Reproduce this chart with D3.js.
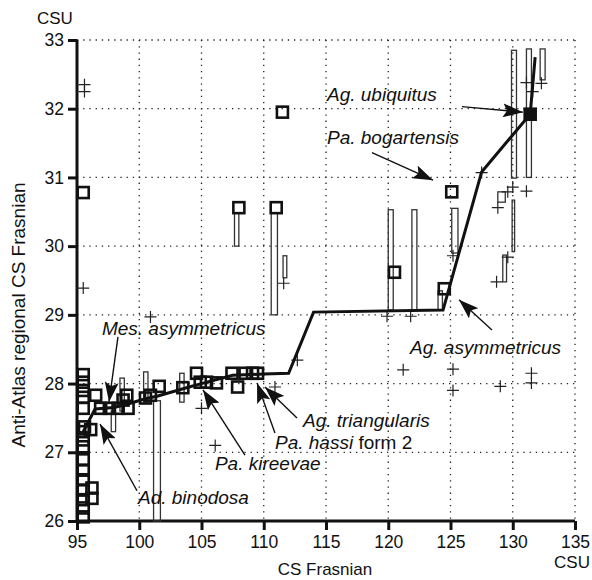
<!DOCTYPE html>
<html>
<head>
<meta charset="utf-8">
<script src="https://cdn.jsdelivr.net/npm/d3@7"></script>
<style>
  body { margin: 0; background: #fff; }
  text { font-family: "Liberation Sans", Arial, sans-serif; }
</style>
</head>
<body>
<div id="container"></div>
<script>
// ---- data ----
var xTicks = [95, 100, 105, 110, 115, 120, 125, 130, 135];
var yTicks = [26, 27, 28, 29, 30, 31, 32, 33];

// thick correlation line
var lineX = [95.5, 96.45, 98, 99, 100.5, 101.5, 104, 105, 107.5, 110, 112, 114, 124.4, 127.5, 131.4, 131.8];
var lineY = [27.3, 27.63, 27.65, 27.7, 27.78, 27.82, 27.95, 28.0, 28.12, 28.14, 28.15, 29.04, 29.07, 31.08, 31.92, 32.75];

// open squares
var squareX = [95.5, 95.5, 95.5, 95.5, 95.5, 95.5, 95.5, 95.5, 95.5, 95.5, 95.6, 95.5, 95.5, 95.5, 95.5, 95.5, 95.5,
  96.2, 96.2, 96.1, 96.5, 96.9, 97.6, 98.3, 99.1, 98.7, 99.0, 100.5, 100.9, 101.6, 103.5, 104.6, 104.9, 105.4, 106.2,
  107.45, 107.9, 108.5, 109.1, 109.5, 108.0, 111.0, 111.5, 120.5, 124.5, 125.1];
var squareY = [26.06, 26.19, 26.31, 26.45, 26.6, 26.74, 26.89, 27.08, 27.18, 27.3, 27.37, 27.64, 27.8, 27.9, 28.02, 28.13, 30.78,
  26.33, 26.48, 27.33, 27.83, 27.64, 27.64, 27.64, 27.64, 27.76, 27.83, 27.79, 27.83, 27.96, 27.94, 28.15, 28.02, 28.02, 28.01,
  28.15, 27.95, 28.15, 28.15, 28.15, 30.56, 30.56, 31.95, 29.62, 29.38, 30.79];

// filled square
var filledX = [131.4];
var filledY = [31.92];

// crosses
var crossX = [95.6, 95.6, 95.5, 100.9, 105.0, 106.1, 110.9, 112.7, 119.9, 121.8, 121.2, 125.2, 125.2, 129.0, 131.5, 131.5,
  125.2, 127.5, 129.6, 131.1, 128.8, 129.6, 128.7, 131.1, 131.6, 132.3, 130.0, 111.6];
var crossY = [32.35, 32.25, 29.39, 28.97, 27.64, 27.1, 27.95, 28.34, 28.98, 28.98, 28.2, 28.21, 27.9, 27.96, 28.15, 28.01,
  29.86, 31.07, 30.79, 30.8, 30.56, 29.84, 29.48, 32.38, 32.25, 32.37, 30.86, 29.46];

// range bars
var barX0 = [97.75, 98.45, 100.35, 101.15, 103.25, 107.65, 110.6, 111.55, 120.0, 121.9, 124.0, 125.1, 129.9, 131.1, 132.2, 128.8, 129.2, 129.95];
var barX1 = [98.1, 98.8, 100.7, 101.7, 103.6, 108.0, 111.1, 111.85, 120.4, 122.3, 124.35, 125.6, 130.3, 131.5, 132.6, 129.4, 129.5, 130.15];
var barY0 = [27.3, 27.6, 27.73, 26.0, 27.73, 30.0, 29.0, 29.54, 29.07, 29.07, 29.07, 29.9, 30.99, 31.0, 32.42, 30.64, 29.48, 29.92];
var barY1 = [27.6, 28.08, 28.17, 27.75, 28.15, 30.48, 30.48, 29.86, 30.53, 30.53, 29.35, 30.55, 32.85, 32.87, 32.87, 30.79, 29.87, 30.67];

// annotations: text anchor, arrow start, arrow tip (data units)
var labelText = ["Ag. ubiquitus", "Pa. bogartensis", "Ag. asymmetricus", "Mes. asymmetricus", "Ad. binodosa",
  "Pa. kireevae", "Pa. hassi", "Ag. triangularis"];
var labelX = [115.08, 115.08, 121.75, 97.0, 99.9, 106.08, 110.9, 113.15];
var labelY = [32.11, 31.49, 28.43, 28.71, 26.25, 26.74, 27.05, 27.37];
var arrowX0 = [125.92, 118.69, 128.33, 98.29, 99.82, 108.49, 110.9, 112.67];
var arrowY0 = [32.03, 31.36, 28.78, 28.68, 26.44, 26.96, 27.28, 27.5];
var arrowX1 = [130.82, 123.6, 125.68, 97.57, 96.85, 105.12, 109.46, 110.1];
var arrowY1 = [31.95, 30.96, 29.22, 27.73, 27.41, 27.91, 28.01, 27.95];

// ---- drawing ----
var width = 592, height = 580;
var margin = { left: 77, right: 17, top: 40, bottom: 59 };

var svg = d3.select('#container').append('svg')
  .attr('width', width)
  .attr('height', height);

var x = d3.scaleLinear().domain([95, 135]).range([margin.left, width - margin.right]);
var y = d3.scaleLinear().domain([26, 33]).range([height - margin.bottom, margin.top]);

// dotted grid
svg.append('g').selectAll('line')
  .data(xTicks.slice(1))
  .join('line')
  .attr('x1', d => x(d)).attr('x2', d => x(d))
  .attr('y1', y(33)).attr('y2', y(26))
  .attr('stroke', '#222').attr('stroke-width', 1.3)
  .attr('stroke-dasharray', '1.3,4.9');

svg.append('g').selectAll('line')
  .data(yTicks.slice(1))
  .join('line')
  .attr('x1', x(95)).attr('x2', x(135))
  .attr('y1', d => y(d)).attr('y2', d => y(d))
  .attr('stroke', '#222').attr('stroke-width', 1.3)
  .attr('stroke-dasharray', '1.3,4.9');

// axes
var xAxis = svg.append('g')
  .attr('transform', `translate(0,${y(26)})`)
  .call(d3.axisBottom(x).tickValues(xTicks).tickFormat(d3.format('d')).tickSize(9).tickPadding(6));
var yAxis = svg.append('g')
  .attr('transform', `translate(${x(95)},0)`)
  .call(d3.axisLeft(y).tickValues(yTicks).tickFormat(d3.format('d')).tickSize(9).tickPadding(4));

[xAxis, yAxis].forEach(a => {
  a.select('.domain').attr('stroke', '#111').attr('stroke-width', 3);
  a.selectAll('.tick line').attr('stroke', '#111').attr('stroke-width', 3);
  a.selectAll('.tick text').attr('font-size', 17.5).attr('fill', '#111')
    .style('font-family', '"Liberation Sans", Arial, sans-serif');
});
xAxis.select('.domain').attr('d', `M${x(95)},0H${x(135)}`);
yAxis.select('.domain').attr('d', `M0,${y(33)}V${y(26)}`);

// range bars
var bars = barX0.map((d, i) => ({ x0: d, x1: barX1[i], y0: barY0[i], y1: barY1[i] }));
svg.append('g').selectAll('rect')
  .data(bars)
  .join('rect')
  .attr('x', d => x(d.x0))
  .attr('y', d => y(d.y1))
  .attr('width', d => x(d.x1) - x(d.x0))
  .attr('height', d => y(d.y0) - y(d.y1))
  .attr('fill', 'none')
  .attr('stroke', '#333')
  .attr('stroke-width', 1.3);

// crosses
var crosses = crossX.map((d, i) => [d, crossY[i]]);
svg.append('g').selectAll('path')
  .data(crosses)
  .join('path')
  .attr('d', d => `M${x(d[0]) - 6},${y(d[1])}h12M${x(d[0])},${y(d[1]) - 6}v12`)
  .attr('stroke', '#222')
  .attr('stroke-width', 1.2)
  .attr('fill', 'none');

// thick line
var pts = lineX.map((d, i) => [d, lineY[i]]);
svg.append('path')
  .datum(pts)
  .attr('d', d3.line().x(d => x(d[0])).y(d => y(d[1])))
  .attr('fill', 'none')
  .attr('stroke', '#111')
  .attr('stroke-width', 3)
  .attr('stroke-linejoin', 'miter');

// open squares
var sq = squareX.map((d, i) => [d, squareY[i]]);
var s = 11;
svg.append('g').selectAll('rect')
  .data(sq)
  .join('rect')
  .attr('x', d => x(d[0]) - s / 2)
  .attr('y', d => y(d[1]) - s / 2)
  .attr('width', s).attr('height', s)
  .attr('fill', 'none')
  .attr('stroke', '#111')
  .attr('stroke-width', 2.6);

var fsq = filledX.map((d, i) => [d, filledY[i]]);
svg.append('g').selectAll('rect')
  .data(fsq)
  .join('rect')
  .attr('x', d => x(d[0]) - s / 2)
  .attr('y', d => y(d[1]) - s / 2)
  .attr('width', s).attr('height', s)
  .attr('fill', '#111')
  .attr('stroke', '#111')
  .attr('stroke-width', 2.6);

// arrows
svg.append('defs').append('marker')
  .attr('id', 'head')
  .attr('markerUnits', 'userSpaceOnUse')
  .attr('markerWidth', 22).attr('markerHeight', 14)
  .attr('refX', 20).attr('refY', 7)
  .attr('orient', 'auto')
  .append('path')
  .attr('d', 'M0,0L20,7L0,14L4,7Z')
  .attr('fill', '#111');

var ann = labelText.map((t, i) => ({
  t: t, lx: labelX[i], ly: labelY[i],
  ax0: arrowX0[i], ay0: arrowY0[i], ax1: arrowX1[i], ay1: arrowY1[i]
}));

svg.append('g').selectAll('line')
  .data(ann)
  .join('line')
  .attr('x1', d => x(d.ax0)).attr('y1', d => y(d.ay0))
  .attr('x2', d => x(d.ax1)).attr('y2', d => y(d.ay1))
  .attr('stroke', '#111')
  .attr('stroke-width', 1.4)
  .attr('marker-end', 'url(#head)');

var labels = svg.append('g').selectAll('text')
  .data(ann)
  .join('text')
  .attr('x', d => x(d.lx))
  .attr('y', d => y(d.ly))
  .attr('font-size', 19)
  .attr('fill', '#111')
  .style('font-style', 'italic')
  .text(d => d.t);

// "form 2" is upright
labels.filter(d => d.t === 'Pa. hassi')
  .append('tspan')
  .style('font-style', 'normal')
  .text(' form 2');

// axis titles
svg.append('text')
  .attr('x', 37).attr('y', 24)
  .attr('font-size', 17).attr('fill', '#111')
  .text('CSU');

svg.append('text')
  .attr('x', 590).attr('y', 568)
  .attr('text-anchor', 'end')
  .attr('font-size', 17).attr('fill', '#111')
  .text('CSU');

svg.append('text')
  .attr('x', (x(95) + x(135)) / 2 - 1).attr('y', 575)
  .attr('text-anchor', 'middle')
  .attr('font-size', 17).attr('fill', '#111')
  .text('CS Frasnian');

svg.append('text')
  .attr('transform', `translate(25,${315}) rotate(-90)`)
  .attr('text-anchor', 'middle')
  .attr('font-size', 19).attr('fill', '#111')
  .text('Anti-Atlas regional CS Frasnian');
</script>
</body>
</html>
